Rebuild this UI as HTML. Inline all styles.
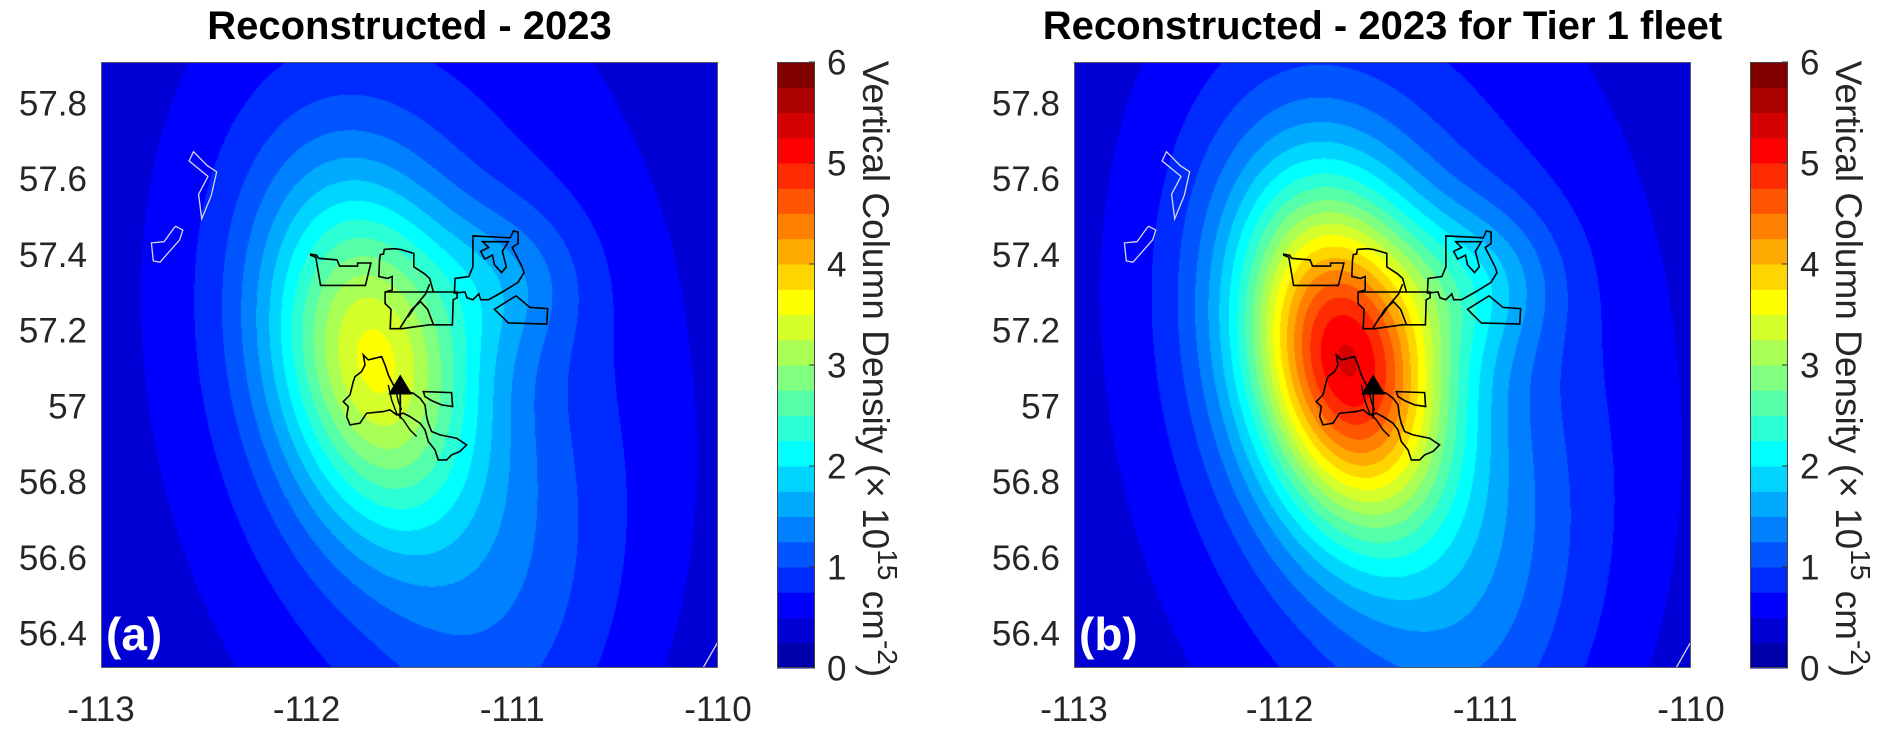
<!DOCTYPE html>
<html><head><meta charset="utf-8">
<style>
html,body{margin:0;padding:0;background:#fff;}
body{width:1892px;height:739px;position:relative;overflow:hidden;font-family:"Liberation Sans",Arial,sans-serif;}
canvas{position:absolute;}
svg{position:absolute;left:0;top:0;}
</style></head>
<body>
<canvas id="map-a" width="617" height="606" style="left:101px;top:62px"></canvas>
<canvas id="map-b" width="617" height="606" style="left:1074px;top:62px"></canvas>
<svg id="ov" width="1892" height="739"></svg>
<script>
// ---- axes data ----
const xTicks = [-113, -112, -111, -110];
const yTicks = [56.4, 56.6, 56.8, 57, 57.2, 57.4, 57.6, 57.8];
const cbTicks = [0, 1, 2, 3, 4, 5, 6];
const titles = ["Reconstructed - 2023", "Reconstructed - 2023 for Tier 1 fleet"];
const panelLabels = ["(a)", "(b)"];
const levelStep = 0.25;
const levelMax = 6;
// ---- plume field components (lon/lat centres, sigmas in axis fractions) ----
const compLon = [-111.35, -111.68, -111.02, -111.0, -111.62];
const compLat = [57.108, 57.12, 57.33, 56.39, 57.1];
const compSigAlong = [0.55, 0.2, 0.09, 0.25, 0.36];
const compSigAcross = [0.32, 0.11, 0.09, 0.13, 0.2];
const compAngle = [0, 11, 0, -15, 12];
const compAmpA = [0.45, 2.3, 0.5, 0.35, 0.6];
const compAmpB = [0.5, 3.8, 0.7, 0.4, 0.75];
const background = [0.25, 0.25];
// ---- outlines (reference fractions x1568) ----
const whiteOutlines = [
 [[235,232],[224,256],[272,296],[248,342],[256,406],[280,346],[294,284],[270,268]],
 [[190,425],[208,435],[200,460],[150,518],[133,515],[128,468],[160,465],[185,430]],
 [[1300,1590],[1330,1588],[1402,1675],[1385,1732],[1340,1718],[1320,1690],[1303,1702],[1290,1660],[1282,1648],[1295,1640],[1335,1650],[1295,1612]]
];
const whiteLines = [[[1568,1500],[1530,1568]]];
const blackOutlines = [
 [[533,497],[548,500],[553,508],[600,512],[606,528],[652,528],[652,520],[686,520],[672,578],[558,578],[546,505],[533,500]],
 [[710,498],[718,497],[720,485],[745,483],[760,485],[778,490],[795,495],[795,530],[822,548],[835,560],[845,595],[905,595],[905,610],[895,615],[893,680],[835,680],[800,685],[765,690],[735,690],[737,640],[722,625],[722,595],[740,590],[740,555],[728,560],[706,555],[708,510]],
 [[898,598],[900,560],[935,555],[945,530],[945,450],[1040,455],[1048,437],[1060,440],[1060,470],[1045,480],[1070,530],[1075,545],[1060,570],[1020,595],[985,615],[965,615],[960,600],[945,615],[930,610],[925,595]],
 [[970,465],[1035,465],[1020,490],[1030,530],[1018,545],[1000,525],[995,500],[975,510],[965,490],[985,480]],
 [[1000,640],[1055,605],[1090,635],[1135,638],[1133,678],[1035,675]]
];
const blackLines = [
 [[722,595],[845,595]],
 [[760,688],[790,640],[812,620],[830,640],[845,680]],
 [[780,660],[800,630],[825,600],[835,575]]
];
const southOutline9 = [[190,315],[205,330],[245,320],[255,345],[265,375],[280,405],[300,420],[340,430],[360,445],[375,465],[380,500],[385,520],[395,545],[420,555],[470,565],[500,585],[480,605],[455,615],[440,630],[415,630],[405,600],[385,575],[375,540],[360,520],[345,510],[330,500],[310,490],[290,495],[270,480],[250,485],[200,490],[180,520],[150,525],[140,500],[145,470],[130,455],[150,435],[160,395],[165,380],[185,365],[195,345]];
const rectOutline9 = [[370,425],[455,428],[458,470],[425,465],[395,452],[375,440]];
const channelLines9 = [[[265,405],[275,450],[290,490],[310,510],[330,540],[350,560]],[[285,410],[295,455],[305,480]]];
const stackLon = -111.545, stackLat = 57.03;

const X0 = [101, 1074], Y0 = 62, W = 617, H = 606;
const LON0 = -113, LON1 = -110, LAT0 = 56.308, LAT1 = 57.908;
const CBX = [777, 1750], CBW = 38;
function xS(lon, p) { return X0[p] + (lon - LON0) / (LON1 - LON0) * W; }
function yS(lat) { return Y0 + (LAT1 - lat) / (LAT1 - LAT0) * H; }
function cbY(v) { return Y0 + H - v / levelMax * H; }
function f11(pt) { return [LON0 + 3 * pt[0] / 1568, LAT1 - 1.6 * pt[1] / 1568]; }
function f9(pt) { return f11([505.7 + 0.847 * pt[0], 486.4 + 0.862 * pt[1]]); }

function jet(m) {
  const n = Math.ceil(m / 4), u = [];
  for (let i = 1; i <= n; i++) u.push(i / n);
  for (let i = 1; i < n; i++) u.push(1);
  for (let i = n; i >= 1; i--) u.push(i / n);
  const g0 = Math.ceil(n / 2) - (m % 4 === 1 ? 1 : 0);
  const R = new Array(m).fill(0), G = new Array(m).fill(0), B = new Array(m).fill(0);
  for (let j = 1; j <= u.length; j++) {
    const g = g0 + j, r = g + n, b = g - n;
    if (g >= 1 && g <= m) G[g - 1] = u[j - 1];
    if (r >= 1 && r <= m) R[r - 1] = u[j - 1];
    if (b >= 1 && b <= m) B[b - 1] = u[j - 1];
  }
  return R.map((r, i) => [Math.round(r * 255), Math.round(G[i] * 255), Math.round(B[i] * 255)]);
}
const NL = Math.round(levelMax / levelStep);
const cmap = jet(NL);

function field(u, v, p) {
  let F = background[p];
  const amps = p === 0 ? compAmpA : compAmpB;
  for (let k = 0; k < compLon.length; k++) {
    const cu = (compLon[k] - LON0) / 3, cv = (LAT1 - compLat[k]) / 1.6;
    const a = compAngle[k] * Math.PI / 180;
    const du = u - cu, dv = v - cv;
    const al = (du * Math.sin(a) + dv * Math.cos(a)) / compSigAlong[k];
    const ac = (du * Math.cos(a) - dv * Math.sin(a)) / compSigAcross[k];
    F += amps[k] * Math.exp(-0.5 * (al * al + ac * ac));
  }
  return F;
}
["map-a", "map-b"].forEach((id, p) => {
  const c = document.getElementById(id), ctx = c.getContext("2d");
  const img = ctx.createImageData(W, H);
  for (let y = 0; y < H; y++) for (let x = 0; x < W; x++) {
    const F = field((x + 0.5) / W, (y + 0.5) / H, p);
    let L = Math.floor(F / levelStep); L = Math.max(0, Math.min(NL - 1, L));
    const col = cmap[L], i = (y * W + x) * 4;
    img.data[i] = col[0]; img.data[i + 1] = col[1]; img.data[i + 2] = col[2]; img.data[i + 3] = 255;
  }
  ctx.putImageData(img, 0, 0);
});

const NS = "http://www.w3.org/2000/svg", svg = document.getElementById("ov");
function el(tag, attrs, parent) {
  const e = document.createElementNS(NS, tag);
  for (const k in attrs) e.setAttribute(k, attrs[k]);
  (parent || svg).appendChild(e); return e;
}
function pathOf(pts, p, close) {
  return pts.map((q, i) => (i ? "L" : "M") + xS(q[0], p).toFixed(1) + " " + yS(q[1]).toFixed(1)).join(" ") + (close ? " Z" : "");
}
for (let p = 0; p < 2; p++) {
  const g = el("g", {});
  
  
  const clipId = "clip" + p;
  const cp = el("clipPath", { id: clipId }, g);
  el("rect", { x: X0[p], y: Y0, width: W, height: H }, cp);
  const og = el("g", { "clip-path": "url(#" + clipId + ")" }, g);
  whiteOutlines.forEach(o => {
    const e = el("path", { d: pathOf(o.map(f11), p, true), fill: "none", stroke: "#d8d8e8", "stroke-width": 1.3 }, og);
    
    
  });
  whiteLines.forEach(o => {
    const e = el("path", { d: pathOf(o.map(f11), p, false), fill: "none", stroke: "#d8d8e8", "stroke-width": 1.3 }, og);
    
    
  });
  blackOutlines.concat([southOutline9, rectOutline9]).forEach((o, i) => {
    const pts = i >= blackOutlines.length ? o.map(f9) : o.map(f11);
    const e = el("path", { d: pathOf(pts, p, true), fill: "none", stroke: "#000", "stroke-width": 1.6 }, og);
    
    
  });
  blackLines.forEach(o => {
    const e = el("path", { d: pathOf(o.map(f11), p, false), fill: "none", stroke: "#000", "stroke-width": 1.6 }, og);
    
    
  });
  channelLines9.forEach(o => {
    const e = el("path", { d: pathOf(o.map(f9), p, false), fill: "none", stroke: "#000", "stroke-width": 1.4 }, og);
    
    
  });
  const sx = xS(stackLon, p), sy = yS(stackLat);
  const ln = el("line", { x1: sx, y1: sy, x2: sx, y2: sy + 24, stroke: "#000", "stroke-width": 1.8 }, og);
  
  
  const tri = el("path", { d: `M${sx} ${sy - 20} L${sx - 12} ${sy} L${sx + 12} ${sy} Z`, fill: "#000" }, og);
  
  
  const fr = el("rect", { x: X0[p] + 0.5, y: Y0 + 0.5, width: W - 1, height: H - 1, fill: "none", stroke: "#5a5a6a", "stroke-width": 1 }, g);
  
  
  xTicks.forEach(t => {
    const tx = el("text", { x: xS(t, p), y: 721, "font-size": 35, fill: "#262626", "text-anchor": "middle" }, g);
    tx.textContent = "-" + Math.abs(t);
    
    
  });
  yTicks.forEach(t => {
    const ty = el("text", { x: X0[p] - 14, y: yS(t) + 12.5, "font-size": 35, fill: "#262626", "text-anchor": "end" }, g);
    ty.textContent = String(t);
    
    
  });
  const tt = el("text", { x: X0[p] + W / 2, y: 39, "font-size": 40, "font-weight": "bold", fill: "#000", "text-anchor": "middle" }, g);
  tt.textContent = titles[p];
  
  
  const pl = el("text", { x: X0[p] + 5, y: Y0 + H - 18, "font-size": 46, "font-weight": "bold", fill: "#fff" }, g);
  pl.textContent = panelLabels[p];
  
  
  const cb = el("g", {}, g);
  
  
  for (let i = 0; i < NL; i++) {
    const y1 = cbY((i + 1) * levelStep), y0 = cbY(i * levelStep);
    const r = el("rect", { x: CBX[p], y: y1, width: CBW, height: y0 - y1 + 0.5, fill: `rgb(${cmap[i].join(",")})` }, cb);
    
    
  }
  el("rect", { x: CBX[p] + 0.5, y: Y0 + 0.5, width: CBW - 1, height: H - 1, fill: "none", stroke: "#444", "stroke-width": 1 }, cb);
  cbTicks.forEach(t => {
    el("line", { x1: CBX[p] + CBW - 6, x2: CBX[p] + CBW, y1: cbY(t), y2: cbY(t), stroke: "#333", "stroke-width": 1 }, cb);
    const ct = el("text", { x: CBX[p] + 50, y: cbY(t) + 12.5, "font-size": 35, fill: "#262626" }, cb);
    ct.textContent = String(t);
    
    
  });
  const lx = CBX[p] + 86, ly = Y0 + H / 2 + 4;
  const lab = el("text", { x: lx, y: ly, "font-size": 37, fill: "#262626", "text-anchor": "middle", transform: `rotate(90 ${lx} ${ly})` }, cb);
  lab.innerHTML = 'Vertical Column Density (× 10<tspan dy="-15" font-size="28">15</tspan><tspan dy="15"> cm</tspan><tspan dy="-15" font-size="28">-2</tspan><tspan dy="15">)</tspan>';
  
  
}
</script>
</body></html>
